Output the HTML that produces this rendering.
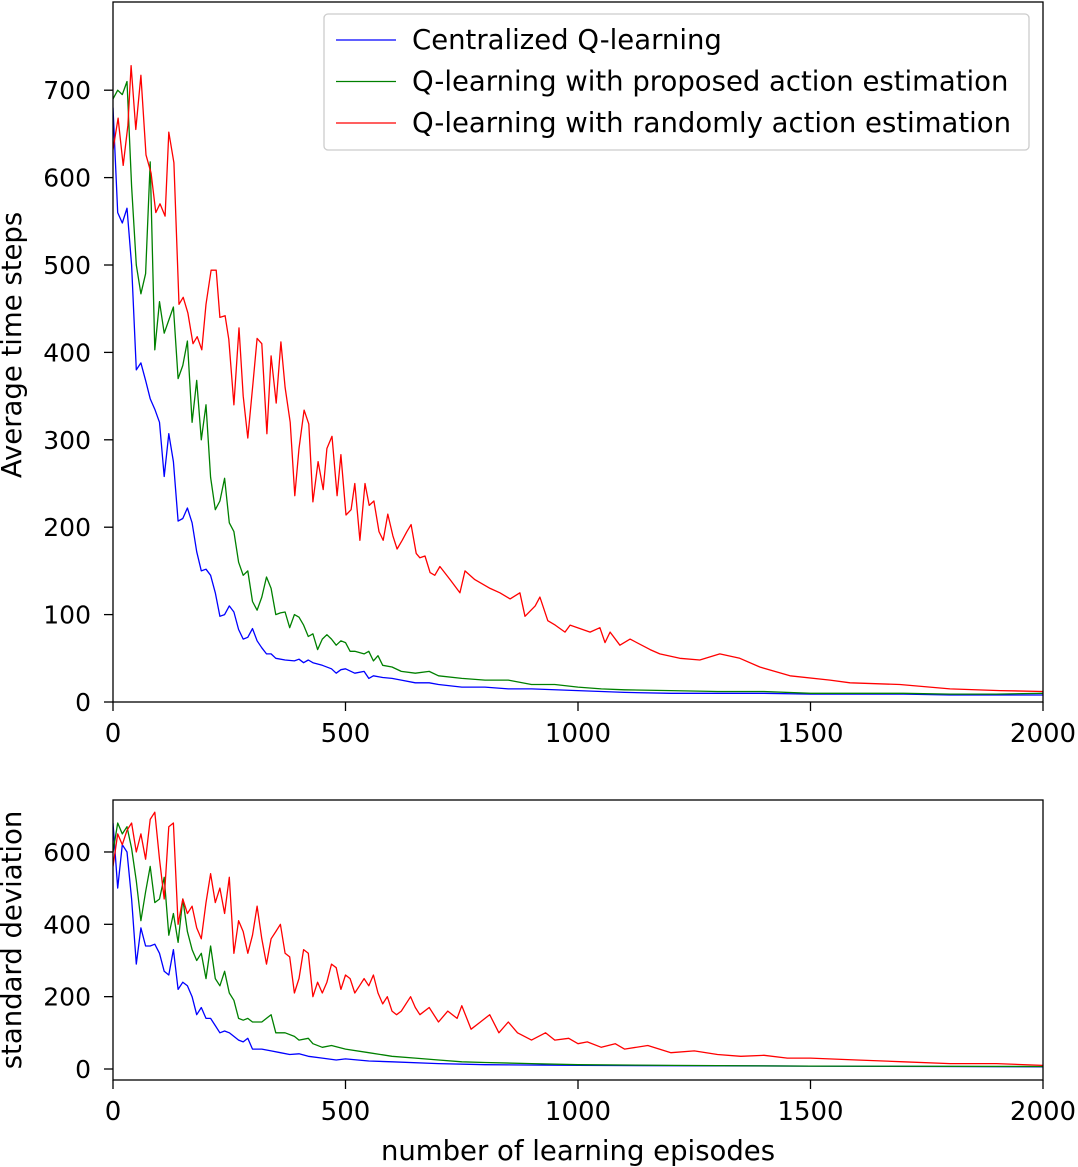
<!DOCTYPE html>
<html><head><meta charset="utf-8"><style>
html,body{margin:0;padding:0;background:#fff;}
svg{display:block;font-family:"DejaVu Sans","Liberation Sans",sans-serif;}
</style></head><body>
<svg id="chart" width="1078" height="1167" viewBox="0 0 1078 1167" xmlns="http://www.w3.org/2000/svg"></svg>
<script>
// ---- Data (episodes, values) ----
const redTopX=[0,11,22,32,39,49,60,71,82,92,101,112,120,131,142,151,161,172,181,191,200,211,222,230,241,249,260,271,280,290,301,310,320,331,340,351,361,370,381,391,400,411,421,430,441,452,460,471,482,490,501,512,520,531,542,551,561,572,581,591,602,611,622,632,641,652,660,671,682,692,703,725,746,757,778,811,832,854,875,886,908,918,935,951,972,983,1026,1047,1058,1069,1090,1112,1155,1176,1219,1262,1305,1348,1391,1456,1542,1585,1692,1800,1908,2000];
const redTopY=[632,668,614,660,728,655,717,626,605,560,570,556,652,617,455,463,445,410,418,403,455,494,494,440,442,415,340,428,350,302,365,416,410,307,396,342,412,360,320,236,290,334,318,229,275,243,290,304,236,283,214,220,250,185,250,225,230,195,185,215,190,175,185,195,203,170,165,167,148,145,155,140,125,150,140,130,125,118,125,98,110,120,93,88,80,88,80,85,68,80,65,72,60,55,50,48,55,50,40,30,25,22,20,15,13,12];
const greenTopX=[0,10,20,30,40,50,60,70,80,90,100,110,120,130,140,150,160,170,180,190,200,210,220,230,240,250,260,270,280,290,300,310,320,330,340,350,360,370,380,390,400,410,420,430,440,450,460,470,480,490,500,510,520,540,550,560,570,580,600,620,650,680,700,750,800,850,900,950,1000,1050,1100,1200,1300,1400,1500,1600,1700,1800,1900,2000];
const greenTopY=[690,700,695,710,590,500,467,490,618,403,458,422,437,452,370,385,413,320,368,300,340,257,220,230,256,205,195,160,145,150,115,105,120,143,130,100,102,103,85,100,97,88,75,78,60,72,77,72,65,70,68,58,58,55,58,47,53,42,40,35,33,35,30,27,25,25,20,20,17,15,14,13,12,12,10,10,10,9,9,10];
const blueTopX=[0,10,20,30,40,50,60,70,80,90,100,110,120,130,140,150,160,170,180,190,200,210,220,230,240,250,260,270,280,290,300,310,320,330,340,350,370,390,400,410,420,430,450,470,480,490,500,520,540,550,560,580,600,620,650,680,700,750,800,850,900,1000,1100,1200,1300,1400,1500,1600,1700,1800,1900,2000];
const blueTopY=[680,560,548,565,500,380,388,368,347,335,320,258,307,275,207,210,222,205,172,150,152,145,125,98,100,110,103,83,72,74,84,70,62,55,55,50,48,47,49,45,48,45,42,38,33,37,38,33,35,27,30,28,27,25,22,22,20,17,17,15,15,13,11,10,10,10,9,9,9,8,8,8];

const redBotX=[0,10,20,30,40,50,60,70,80,90,100,110,120,130,140,150,160,170,180,190,200,210,220,230,240,250,260,270,280,290,300,310,320,330,340,350,360,370,380,390,400,410,420,430,440,450,460,470,480,490,500,510,520,530,540,550,560,570,580,590,600,610,620,640,650,660,680,700,720,740,750,770,790,810,830,850,870,900,930,950,980,1000,1020,1050,1080,1100,1150,1200,1250,1300,1350,1400,1450,1500,1600,1700,1800,1900,2000];
const redBotY=[560,650,620,660,680,600,650,580,690,710,580,470,670,680,400,470,430,450,390,360,460,540,460,500,430,530,320,410,380,320,370,450,360,290,360,380,400,320,310,210,250,330,320,200,240,210,240,290,280,220,260,250,210,230,250,230,260,210,180,200,160,150,160,200,170,150,170,130,160,140,175,110,130,150,100,130,100,80,100,80,85,70,75,60,70,55,65,45,50,40,35,38,30,30,25,20,15,15,10];
const greenBotX=[0,10,20,30,40,50,60,70,80,90,100,110,120,130,140,150,160,170,180,190,200,210,220,230,240,250,260,270,280,290,300,320,340,350,370,390,400,420,430,450,470,500,550,600,650,700,750,800,900,1000,1200,1500,2000];
const greenBotY=[600,680,650,670,610,520,410,490,560,460,470,530,370,430,350,470,380,330,300,320,250,340,250,230,270,210,190,140,135,140,130,130,150,100,100,90,80,85,70,60,65,55,45,35,30,25,20,18,15,12,10,8,7];
const blueBotX=[0,10,20,30,40,50,60,70,80,90,100,110,120,130,140,150,160,170,180,190,200,210,220,230,240,250,260,270,280,290,300,320,340,360,380,400,420,450,480,500,550,600,700,800,1000,1500,2000];
const blueBotY=[680,500,620,600,470,290,390,340,340,345,320,270,260,330,220,240,230,200,150,170,140,140,120,100,105,100,90,80,75,85,55,55,50,45,40,42,35,30,25,28,22,20,15,12,10,8,6];

const xTicks=[0,500,1000,1500,2000];
const topYTicks=[0,100,200,300,400,500,600,700];
const botYTicks=[0,200,400,600];
const legendLabels=["Centralized Q-learning","Q-learning with proposed action estimation","Q-learning with randomly action estimation"];

const NS="http://www.w3.org/2000/svg";
const svg=document.getElementById('chart');
function mk(tag,attrs,parent){const e=document.createElementNS(NS,tag);for(const k in attrs)e.setAttribute(k,attrs[k]);(parent||svg).appendChild(e);return e;}
const L=113,R=1043;
const xS=v=>L+(v/2000)*(R-L);
const yTop=v=>702-v*0.874;
const yBot=v=>1069-v*0.3617;

function panel(name,t,b,yS,yTicks,series){
  const g=mk('g',{});
  
  
  const cp=mk('clipPath',{id:'cp-'+name},g);
  mk('rect',{x:L,y:t,width:R-L,height:b-t},cp);
  series.forEach(s=>{
    const d=s.x.map((x,i)=>(i?'L':'M')+xS(x).toFixed(1)+','+yS(s.y[i]).toFixed(1)).join('');
    const p=mk('path',{d:d,fill:'none',stroke:s.c,'stroke-width':1.3,'stroke-linejoin':'round','clip-path':'url(#cp-'+name+')'},g);
    
    
  });
  const frame=mk('rect',{x:L,y:t,width:R-L,height:b-t,fill:'none',stroke:'#000','stroke-width':1.3},g);
  
  
  xTicks.forEach(v=>{
    const x=xS(v);
    mk('line',{x1:x,x2:x,y1:b,y2:b+9,stroke:'#000','stroke-width':1.3},g);
    const tx=mk('text',{x:x,y:b+40,'font-size':26,'text-anchor':'middle'},g);
    tx.textContent=v;
    
    
  });
  yTicks.forEach(v=>{
    const y=yS(v);
    mk('line',{x1:L-9,x2:L,y1:y,y2:y,stroke:'#000','stroke-width':1.3},g);
    const tx=mk('text',{x:L-22,y:y+9,'font-size':25,'text-anchor':'end'},g);
    tx.textContent=v;
    
    
  });
}
panel('top-panel',2,702,yTop,topYTicks,[
  {n:'centralized-line',c:'#0000ff',x:blueTopX,y:blueTopY},
  {n:'proposed-line',c:'#008000',x:greenTopX,y:greenTopY},
  {n:'random-line',c:'#ff0000',x:redTopX,y:redTopY}]);
panel('bottom-panel',800,1080,yBot,botYTicks,[
  {n:'centralized-std-line',c:'#0000ff',x:blueBotX,y:blueBotY},
  {n:'proposed-std-line',c:'#008000',x:greenBotX,y:greenBotY},
  {n:'random-std-line',c:'#ff0000',x:redBotX,y:redBotY}]);

let t=mk('text',{x:0,y:0,'font-size':27.5,'text-anchor':'middle',transform:'translate(21,345) rotate(-90)'});
t.textContent='Average time steps';


t=mk('text',{x:0,y:0,'font-size':27.5,'text-anchor':'middle',transform:'translate(21,940) rotate(-90)'});
t.textContent='standard deviation';


t=mk('text',{x:578,y:1160,'font-size':27.5,'text-anchor':'middle'});
t.textContent='number of learning episodes';



const lg=mk('g',{});


mk('rect',{x:324,y:14,width:705,height:136,rx:4,fill:'#fff',stroke:'#ccc','stroke-width':1.3},lg);
const cols=['#0000ff','#008000','#ff0000'];
legendLabels.forEach((lab,i)=>{
  const y=40+i*41.5;
  const e=mk('g',{},lg);
  
  
  mk('line',{x1:336,x2:396,y1:y,y2:y,stroke:cols[i],'stroke-width':1.3},e);
  const tx=mk('text',{x:412,y:y+9,'font-size':27.5},e);
  tx.textContent=lab;
});
</script>
</body></html>
